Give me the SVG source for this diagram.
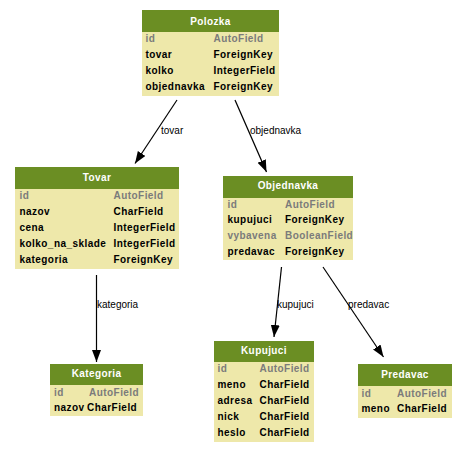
<svg xmlns="http://www.w3.org/2000/svg" width="468" height="453" viewBox="0 0 468 453">
<defs>
<style>
.hd{fill:#6b8e23}
.bd{fill:#eee8aa}
.t{font-family:"Liberation Sans",Arial,sans-serif;font-size:10px;font-weight:bold;letter-spacing:0.45px;fill:#000}
.g{fill:#7b7b7b}
.h{font-family:"Liberation Sans",Arial,sans-serif;font-size:10px;font-weight:bold;letter-spacing:0.4px;fill:#fff;text-anchor:middle}
.e{stroke:#000;stroke-width:1.2;fill:none;marker-end:url(#ah)}
.l{font-family:"Liberation Sans",Arial,sans-serif;font-size:10px;fill:#000}
</style>
<marker id="ah" markerUnits="userSpaceOnUse" markerWidth="13" markerHeight="10" refX="12" refY="4.5" orient="auto">
<path d="M0,0 L12,4.5 L0,9 z" fill="#000"/>
</marker>
</defs>
<rect width="468" height="453" fill="#fff"/>
<g id="connectors">
<line class="e" x1="177" y1="100" x2="135" y2="163.5"/>
<line class="e" x1="235" y1="100" x2="266.5" y2="172"/>
<line class="e" x1="96.5" y1="275" x2="96.5" y2="362"/>
<line class="e" x1="281.5" y1="267" x2="274" y2="337"/>
<line class="e" x1="323" y1="267" x2="383.5" y2="357"/>
<text class="l" x="161" y="134">tovar</text>
<text class="l" x="250" y="134">objednavka</text>
<text class="l" x="97" y="307.5">kategoria</text>
<text class="l" x="277" y="307.5">kupujuci</text>
<text class="l" x="348" y="307.5">predavac</text>
</g>
<g id="Polozka">
<rect class="hd" x="142" y="10" width="137" height="22"/>
<rect class="bd" x="142" y="32" width="137" height="64"/>
<text class="h" x="210.5" y="24.5">Polozka</text>
<text class="t g" x="145.5" y="41.5">id</text><text class="t g" x="213.5" y="41.5">AutoField</text>
<text class="t" x="145.5" y="57.5">tovar</text><text class="t" x="213.5" y="57.5">ForeignKey</text>
<text class="t" x="145.5" y="73.5">kolko</text><text class="t" x="213.5" y="73.5">IntegerField</text>
<text class="t" x="145.5" y="89.5">objednavka</text><text class="t" x="213.5" y="89.5">ForeignKey</text>
</g>
<g id="Tovar">
<rect class="hd" x="15" y="167" width="164" height="22"/>
<rect class="bd" x="15" y="189" width="164" height="80"/>
<text class="h" x="97" y="181">Tovar</text>
<text class="t g" x="19.5" y="198.5">id</text><text class="t g" x="113.5" y="198.5">AutoField</text>
<text class="t" x="19.5" y="214.5">nazov</text><text class="t" x="113.5" y="214.5">CharField</text>
<text class="t" x="19.5" y="230.5">cena</text><text class="t" x="113.5" y="230.5">IntegerField</text>
<text class="t" x="19.5" y="246.5">kolko_na_sklade</text><text class="t" x="113.5" y="246.5">IntegerField</text>
<text class="t" x="19.5" y="262.5">kategoria</text><text class="t" x="113.5" y="262.5">ForeignKey</text>
</g>
<g id="Objednavka">
<rect class="hd" x="223" y="176" width="130" height="22"/>
<rect class="bd" x="223" y="198" width="130" height="62"/>
<text class="h" x="288" y="188.5">Objednavka</text>
<text class="t g" x="227.5" y="207.5">id</text><text class="t g" x="285" y="207.5">AutoField</text>
<text class="t" x="227.5" y="223">kupujuci</text><text class="t" x="285" y="223">ForeignKey</text>
<text class="t g" x="227.5" y="239">vybavena</text><text class="t g" x="285" y="239">BooleanField</text>
<text class="t" x="227.5" y="254.5">predavac</text><text class="t" x="285" y="254.5">ForeignKey</text>
</g>
<g id="Kategoria">
<rect class="hd" x="50" y="364" width="93" height="21"/>
<rect class="bd" x="50" y="385" width="93" height="31"/>
<text class="h" x="96.5" y="377">Kategoria</text>
<text class="t g" x="54" y="396">id</text><text class="t g" x="89" y="396">AutoField</text>
<text class="t" x="54" y="411" letter-spacing="0.2">nazov</text><text class="t" x="87" y="411">CharField</text>
</g>
<g id="Kupujuci">
<rect class="hd" x="214" y="341" width="100" height="21"/>
<rect class="bd" x="214" y="362" width="100" height="80"/>
<text class="h" x="264" y="353.5">Kupujuci</text>
<text class="t g" x="217.5" y="372">id</text><text class="t g" x="259.5" y="372">AutoField</text>
<text class="t" x="217.5" y="388">meno</text><text class="t" x="259.5" y="388">CharField</text>
<text class="t" x="217.5" y="404">adresa</text><text class="t" x="259.5" y="404">CharField</text>
<text class="t" x="217.5" y="420">nick</text><text class="t" x="259.5" y="420">CharField</text>
<text class="t" x="217.5" y="436">heslo</text><text class="t" x="259.5" y="436">CharField</text>
</g>
<g id="Predavac">
<rect class="hd" x="358" y="364" width="94" height="22"/>
<rect class="bd" x="358" y="386" width="94" height="32"/>
<text class="h" x="405" y="377.5">Predavac</text>
<text class="t g" x="361.5" y="396.5">id</text><text class="t g" x="397" y="396.5">AutoField</text>
<text class="t" x="361.5" y="412">meno</text><text class="t" x="397" y="412">CharField</text>
</g>
</svg>
